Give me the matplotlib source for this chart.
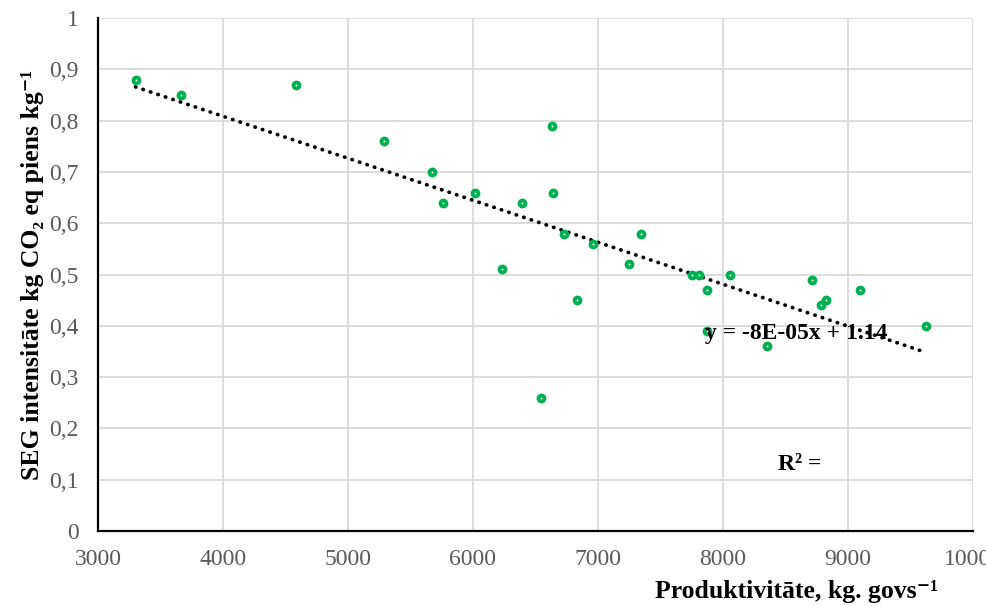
import numpy as np
import matplotlib
matplotlib.use("Agg")
import matplotlib.pyplot as plt

# productivity (kg per cow) vs GHG intensity
produktivitate = [3300, 3660, 4585, 5285, 5676, 5764, 6019, 6232, 6392, 6541,
                  6634, 6643, 6728, 6835, 6957, 7248, 7347, 7752, 7811, 7869,
                  7875, 8056, 8349, 8709, 8781, 8824, 9096, 9624]
intensitate = [0.88, 0.85, 0.87, 0.76, 0.70, 0.64, 0.66, 0.51, 0.64, 0.26,
               0.79, 0.66, 0.58, 0.45, 0.56, 0.52, 0.58, 0.50, 0.50, 0.39,
               0.47, 0.50, 0.36, 0.49, 0.44, 0.45, 0.47, 0.40]

x_ticks = [3000, 4000, 5000, 6000, 7000, 8000, 9000, 10000]
y_ticks = [0, 0.1, 0.2, 0.3, 0.4, 0.5, 0.6, 0.7, 0.8, 0.9, 1.0]

serif = ['Liberation Serif', 'DejaVu Serif']
plt.rcParams['font.family'] = serif

fig = plt.figure(figsize=(9.86, 6.06), dpi=100)
ax = fig.add_axes([0.0994, 0.1238, 0.8874, 0.8462])

x = np.array(produktivitate)
y = np.array(intensitate)

# linear trendline (Excel style, dotted)
k, b = np.polyfit(x, y, 1)
xl = np.array([x.min(), x.max()])
ax.plot(xl, k * xl + b, color='black', linestyle=(0, (0.1, 2.0)), linewidth=2.7,
        dash_capstyle='round', zorder=2)

ax.scatter(x, y, s=50, color='#00B050', zorder=3, linewidths=0)
ax.scatter(x, y, s=2, color='white', zorder=4, linewidths=0)

ax.set_xlim(3000, 10000)
ax.set_ylim(0, 1)
ax.set_xticks(x_ticks)
ax.set_yticks(y_ticks)
ax.set_yticklabels([('%g' % v).replace('.', ',') for v in y_ticks])
ax.tick_params(length=0, labelsize=17, labelcolor='#595959')
ax.tick_params(axis='x', pad=13)
ax.tick_params(axis='y', pad=14)

ax.grid(True, color='#D9D9D9', linewidth=1.3)
ax.set_axisbelow(True)
for s in ['top', 'right']:
    ax.spines[s].set_visible(False)
for s in ['left', 'bottom']:
    ax.spines[s].set_linewidth(1.6)
    ax.spines[s].set_color('black')

ax.set_ylabel('SEG intensitāte kg CO₂ eq piens kg⁻¹', fontsize=18.5, fontweight='bold', labelpad=4)
fig.text(0.951, 0.0132, 'Produktivitāte, kg. govs⁻¹', fontsize=18.5, fontweight='bold',
         ha='right', va='baseline')

ax.text(7860, 0.385, 'y = -8E-05x + 1.14', fontsize=17, fontweight='bold', va='center', ha='left')
ax.text(8440, 0.13, 'R² =', fontsize=17, fontweight='bold', va='center', ha='left')

fig.savefig('out.png', dpi=100)
